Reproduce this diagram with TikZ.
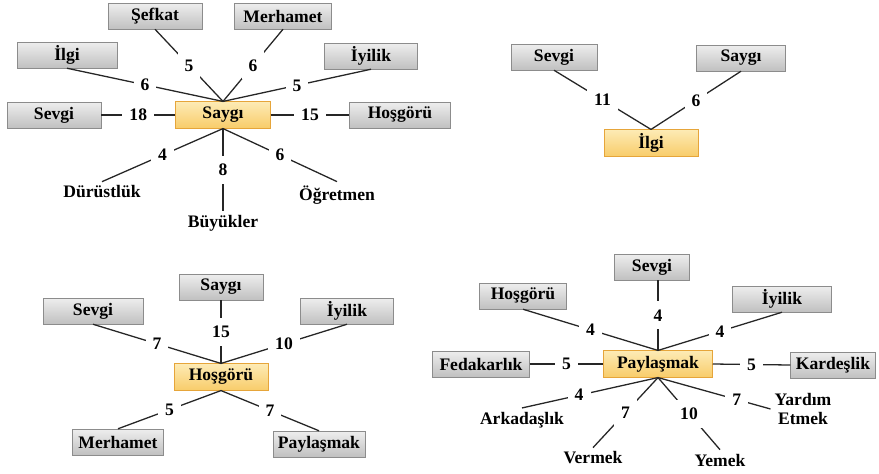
\documentclass[tikz,border=0pt]{standalone}
\usepackage{fontspec}
\setmainfont{Liberation Serif}

\definecolor{boxtop}{HTML}{EEEEEE}
\definecolor{boxbot}{HTML}{C0C0C0}
\definecolor{boxline}{HTML}{8C8C8C}
\definecolor{hubtop}{HTML}{FDEBB5}
\definecolor{hubbot}{HTML}{F8CC6A}
\definecolor{hubline}{HTML}{E6A53A}

\begin{document}
\begin{tikzpicture}[x=0.03cm,y=-0.03cm,
  every node/.style={font=\fontsize{15}{17}\selectfont\bfseries},
  box/.style={draw=boxline, top color=boxtop, bottom color=boxbot, minimum height=0.78cm, inner sep=0pt},
  hub/.style={draw=hubline, top color=hubtop, bottom color=hubbot, minimum height=0.8cm, inner sep=0pt},
  bw/.style={minimum width=#1*0.03cm},
  num/.style={fill=white, inner xsep=6pt, inner ysep=7pt},
  link/.style={draw=black!85, line width=1.1pt}]
\useasboundingbox (0,0) rectangle (879,473);

% Saygi
\node [hub, bw=95] (a-hub) at (223,115) {Saygı};
\node [box, bw=94] (a-sefkat) at (155,16) {Şefkat};
\node [box, bw=97] (a-merhamet) at (283,16) {Merhamet};
\node [box, bw=100] (a-ilgi) at (67,55) {İlgi};
\node [box, bw=93] (a-iyilik) at (371,56) {İyilik};
\node [box, bw=94] (a-sevgi) at (54,115) {Sevgi};
\node [box, bw=101] (a-hosgoru) at (400,115) {Hoşgörü};
\node (a-durust) at (102,192) {Dürüstlük};
\node (a-buyuk) at (223,223) {Büyükler};
\node (a-ogret) at (337,195) {Öğretmen};
\draw [link] (a-sefkat.south) -- node [num] {5} (a-hub.north);
\draw [link] (a-merhamet.south) -- node [num] {6} (a-hub.north);
\draw [link] (a-ilgi.south) -- node [num] {6} (a-hub.north);
\draw [link] (a-iyilik.south) -- node [num] {5} (a-hub.north);
\draw [link] (a-sevgi.east) -- node [num] {18} (a-hub.west);
\draw [link] (a-hub.east) -- node [num] {15} (a-hosgoru.west);
\draw [link] (a-hub.south) -- node [num] {4} (a-durust.north);
\draw [link] (a-hub.south) -- node [num] {8} (a-buyuk.north);
\draw [link] (a-hub.south) -- node [num] {6} (a-ogret.north);

% Ilgi
\node [hub, bw=94] (b-hub) at (651,143) {İlgi};
\node [box, bw=86] (b-sevgi) at (554,57) {Sevgi};
\node [box, bw=89] (b-saygi) at (741,58) {Saygı};
\draw [link] (b-sevgi.south) -- node [num] {11} (b-hub.north);
\draw [link] (b-saygi.south) -- node [num] {6} (b-hub.north);

% Hosgoru
\node [hub, bw=94] (c-hub) at (221,377) {Hoşgörü};
\node [box, bw=84] (c-saygi) at (221,287) {Saygı};
\node [box, bw=100] (c-sevgi) at (93,311) {Sevgi};
\node [box, bw=93] (c-iyilik) at (347,311) {İyilik};
\node [box, bw=91] (c-merhamet) at (118,442) {Merhamet};
\node [box, bw=92] (c-paylas) at (319,444) {Paylaşmak};
\draw [link] (c-saygi.south) -- node [num] {15} (c-hub.north);
\draw [link] (c-sevgi.south) -- node [num] {7} (c-hub.north);
\draw [link] (c-iyilik.south) -- node [num] {10} (c-hub.north);
\draw [link] (c-hub.south) -- node [num] {5} (c-merhamet.north);
\draw [link] (c-hub.south) -- node [num] {7} (c-paylas.north);

% Paylasmak
\node [hub, bw=109] (d-hub) at (658,364) {Paylaşmak};
\node [box, bw=75] (d-sevgi) at (652,267) {Sevgi};
\node [box, bw=87] (d-hosgoru) at (523,296) {Hoşgörü};
\node [box, bw=99] (d-iyilik) at (782,299) {İyilik};
\node [box, bw=97] (d-fedakar) at (481,364) {Fedakarlık};
\node [box, bw=85] (d-kardes) at (833,365) {Kardeşlik};
\node (d-arkadas) at (522,420) {Arkadaşlık};
\node (d-vermek) at (593,458) {Vermek};
\node (d-yemek) at (720,460) {Yemek};
\node [align=center] (d-yardim) at (803,409) {Yardım\\Etmek};
\draw [link] (d-hub.north |- d-sevgi.south) -- node [num] {4} (d-hub.north);
\draw [link] (d-hosgoru.south) -- node [num] {4} (d-hub.north);
\draw [link] (d-iyilik.south) -- node [num] {4} (d-hub.north);
\draw [link] (d-fedakar.east) -- node [num] {5} (d-hub.west);
\draw [link] (d-hub.east) -- node [num] {5} (d-kardes.west);
\draw [link] (d-hub.south) -- node [num, pos=.58] {4} (d-arkadas.north);
\draw [link] (d-hub.south) -- node [num] {7} (d-vermek.north);
\draw [link] (d-hub.south) -- node [num] {10} (d-yemek.north);
\draw [link] (d-hub.south) -- node [num, pos=.7] {7} (d-yardim.west);
\end{tikzpicture}
\end{document}
